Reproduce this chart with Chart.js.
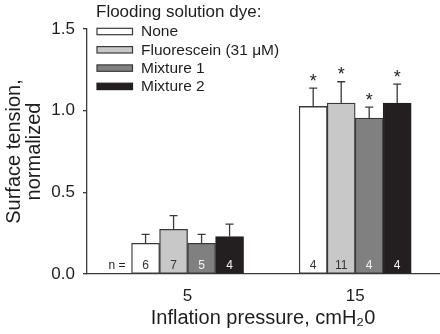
<!DOCTYPE html>
<html>
<head>
<meta charset="utf-8">
<script src="https://cdn.jsdelivr.net/npm/chart.js@4/dist/chart.umd.min.js"></script>
<style>
    body { margin: 0; background: #ffffff; }
</style>
</head>
<body>
<canvas id="chartTensao" width="440" height="334"></canvas>
<script>
// ----------------------------------------------------------------------------
// Dados (tensão superficial normalizada)

var pressoes = [5, 15];            // pressão de insuflação, cmH2O
var ticksY = [0, 0.5, 1.0, 1.5];

var mediaNenhum = [0.188, 1.026];
var mediaFluoresceina = [0.274, 1.047];
var mediaMistura1 = [0.188, 0.955];
var mediaMistura2 = [0.229, 1.047];

// barra de erro (só a metade de cima aparece)
var erroNenhum = [0.055, 0.112];
var erroFluoresceina = [0.083, 0.130];
var erroMistura1 = [0.055, 0.067];
var erroMistura2 = [0.076, 0.116];

// n de cada barra
var nNenhum = [6, 4];
var nFluoresceina = [7, 11];
var nMistura1 = [5, 4];
var nMistura2 = [4, 4];

// diferença significativa (*)
var sigNenhum = [false, true];
var sigFluoresceina = [false, true];
var sigMistura1 = [false, true];
var sigMistura2 = [false, true];

// ----------------------------------------------------------------------------

var fonte = '"Liberation Sans", Arial, Helvetica, sans-serif';
var corTexto = '#1e1e1e';
var corLinha = '#3a3a3a';

Chart.defaults.font.family = fonte;
Chart.defaults.color = corTexto;

function criarSerie(nome, media, erro, n, sig, cor, corN) {
    return {
        label: nome,
        data: media,
        erro: erro,
        n: n,
        sig: sig,
        corN: corN,
        backgroundColor: cor,
        borderColor: cor == '#231f20' ? '#231f20' : corLinha,
        borderWidth: 1.3,
        borderSkipped: false,
        barThickness: 28
    };
}

// desenha barras de erro, asteriscos, n e a legenda
const pluginExtras = {
    id: 'extras',
    afterDatasetsDraw(chart) {
        const ctx = chart.ctx;
        const escalaY = chart.scales.y;
        const base = escalaY.getPixelForValue(0);

        chart.data.datasets.forEach(function (serie, i) {
            const meta = chart.getDatasetMeta(i);
            meta.data.forEach(function (barra, j) {
                const topo = escalaY.getPixelForValue(serie.data[j]);
                const cap = escalaY.getPixelForValue(serie.data[j] + serie.erro[j]);

                ctx.save();
                ctx.strokeStyle = corLinha;
                ctx.lineWidth = 1.3;
                ctx.beginPath();
                ctx.moveTo(barra.x, topo);
                ctx.lineTo(barra.x, cap);
                ctx.moveTo(barra.x - 4, cap);
                ctx.lineTo(barra.x + 4, cap);
                ctx.stroke();

                ctx.fillStyle = serie.corN;
                ctx.font = '12px ' + fonte;
                ctx.textAlign = 'center';
                ctx.textBaseline = 'middle';
                ctx.fillText(String(serie.n[j]), barra.x, base - 8);

                if (serie.sig[j]) {
                    ctx.fillStyle = corTexto;
                    ctx.font = '18px ' + fonte;
                    ctx.textBaseline = 'alphabetic';
                    ctx.fillText('*', barra.x, cap - 1.5);
                }
                ctx.restore();
            });
        });

        // "n =" antes da primeira barra
        const primeira = chart.getDatasetMeta(0).data[0];
        ctx.save();
        ctx.fillStyle = corTexto;
        ctx.font = '12px ' + fonte;
        ctx.textAlign = 'right';
        ctx.textBaseline = 'middle';
        ctx.fillText('n =', primeira.x - primeira.width / 2 - 6, base - 8);
        ctx.restore();
    },
    afterDraw(chart) {
        // legenda no canto de cima
        const ctx = chart.ctx;
        ctx.save();
        ctx.fillStyle = corTexto;
        ctx.font = '17px ' + fonte;
        ctx.textAlign = 'left';
        ctx.textBaseline = 'alphabetic';
        ctx.fillText('Flooding solution dye:', 96, 17);

        ctx.font = '15.5px ' + fonte;
        ctx.textBaseline = 'middle';
        chart.data.datasets.forEach(function (serie, i) {
            const cy = 31.5 + i * 18.3;
            ctx.fillStyle = serie.backgroundColor;
            ctx.fillRect(97, cy - 3.2, 35.5, 6.4);
            ctx.strokeStyle = serie.borderColor;
            ctx.lineWidth = 1.2;
            ctx.strokeRect(97, cy - 3.2, 35.5, 6.4);
            ctx.fillStyle = corTexto;
            ctx.fillText(serie.label, 141, cy + 0.5);
        });
        ctx.restore();
    }
};

const config = {
    type: 'bar',
    data: {
        labels: pressoes,
        datasets: [
            criarSerie('None', mediaNenhum, erroNenhum, nNenhum, sigNenhum, '#ffffff', '#333333'),
            criarSerie('Fluorescein (31 μM)', mediaFluoresceina, erroFluoresceina, nFluoresceina, sigFluoresceina, '#c8c8c8', '#333333'),
            criarSerie('Mixture 1', mediaMistura1, erroMistura1, nMistura1, sigMistura1, '#808080', '#f4f4f4'),
            criarSerie('Mixture 2', mediaMistura2, erroMistura2, nMistura2, sigMistura2, '#231f20', '#f4f4f4')
        ]
    },
    options: {
        responsive: false,
        animation: false,
        layout: { padding: { top: 29, right: 1, left: 0, bottom: 0 } },
        plugins: {
            legend: { display: false },
            tooltip: { enabled: false }
        },
        scales: {
            x: {
                type: 'linear',
                offset: false,
                min: -1,
                max: 20,
                afterBuildTicks: function (escala) {
                    escala.ticks = pressoes.map(function (p) { return { value: p }; });
                },
                afterFit: function (escala) { escala.height = 60; },
                grid: { display: false },
                border: { display: true, color: corLinha, width: 1.3 },
                ticks: {
                    autoSkip: false,
                    maxRotation: 0,
                    padding: 4,
                    color: corTexto,
                    font: { size: 17 }
                },
                title: {
                    display: true,
                    text: 'Inflation pressure, cmH₂0',
                    color: corTexto,
                    font: { size: 20 },
                    padding: { top: 0, bottom: 4 }
                }
            },
            y: {
                min: 0,
                max: 1.5,
                afterBuildTicks: function (escala) {
                    escala.ticks = ticksY.map(function (v) { return { value: v }; });
                },
                afterFit: function (escala) { escala.width = 87; },
                grid: {
                    display: true,
                    drawOnChartArea: false,
                    drawTicks: true,
                    tickLength: 4,
                    color: corLinha,
                    lineWidth: 1.3
                },
                border: { display: true, color: corLinha, width: 1.3 },
                ticks: {
                    padding: 8,
                    color: corTexto,
                    font: { size: 17 },
                    callback: function (v) { return Number(v).toFixed(1); }
                },
                title: {
                    display: true,
                    text: ['Surface tension,', 'normalized'],
                    color: corTexto,
                    font: { size: 20, lineHeight: 1.0 },
                    padding: { top: 4, bottom: 0 }
                }
            }
        }
    },
    plugins: [pluginExtras]
};

let chartTensao = new Chart(document.getElementById('chartTensao'), config);
</script>
</body>
</html>
